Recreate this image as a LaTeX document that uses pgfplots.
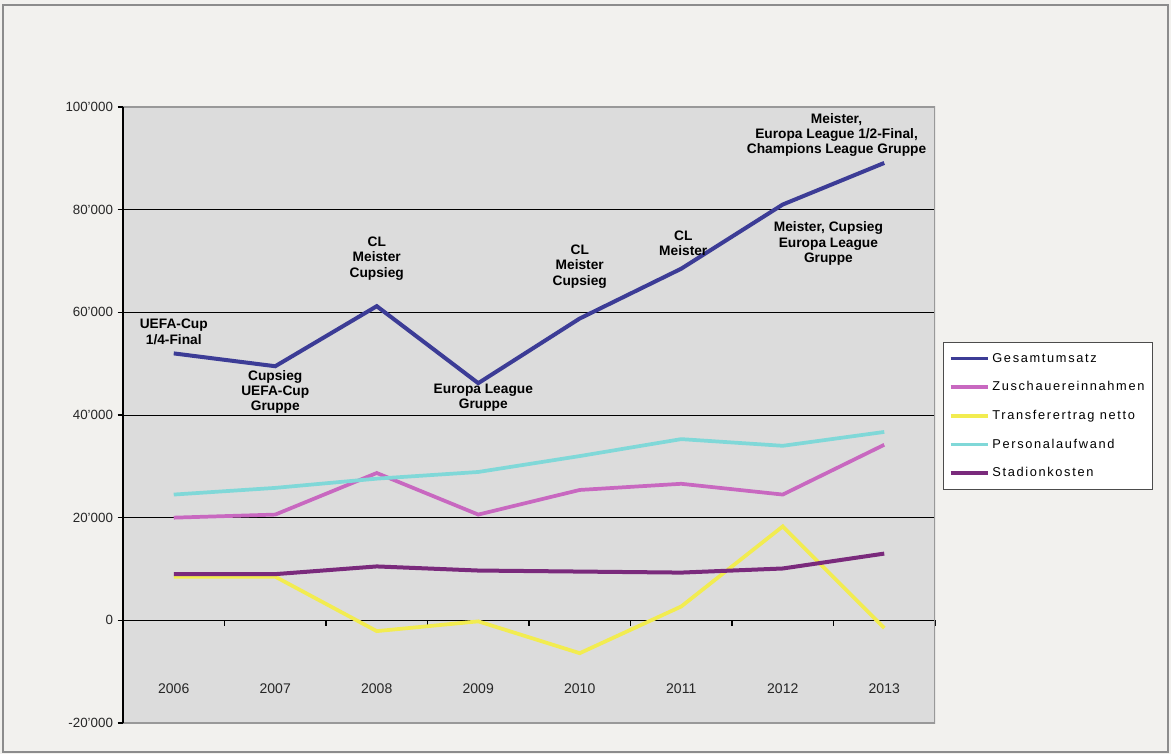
\documentclass[border=0pt]{standalone}
\usepackage{pgfplots}
\pgfplotsset{compat=1.18}
\usepackage{fontspec}
\setmainfont{Liberation Sans}
\newfontfamily\legfont[LetterSpace=13]{Liberation Sans}
\definecolor{bgout}{HTML}{F2F1EE}
\definecolor{plotbg}{HTML}{DCDCDC}
\definecolor{cGes}{HTML}{3C3C96}
\definecolor{cZus}{HTML}{C868C0}
\definecolor{cTra}{HTML}{F2EC50}
\definecolor{cPer}{HTML}{80D8D8}
\definecolor{cSta}{HTML}{7A2A7C}
\begin{document}
\begin{tikzpicture}[x=0.75pt,y=0.75pt]
\path[use as bounding box] (0,0) rectangle (1171,754);
\fill[bgout] (0,0) rectangle (1171,754);
\draw[black!45,line width=2.2pt] (3,2) rectangle (1168,749);
\begin{axis}[
  at={(92.25pt,23.25pt)}, anchor=south west,
  width=609pt, height=462pt, scale only axis,
  xmin=-0.5, xmax=7.5, ymin=-20000, ymax=100000,
  axis background/.style={fill=plotbg},
  axis x line*=middle, axis y line*=left,
  axis line style={black, line width=0.9pt},
  scaled ticks=false,
  xtick={-0.5,0.5,...,7.5}, xticklabels={},
  xticklabel style={text opacity=0},
  ytick={-20000,0,20000,40000,60000,80000,100000},
  yticklabels={-20'000,0,20'000,40'000,60'000,80'000,100'000},
  yticklabel style={font=\fontsize{10}{11}\selectfont, text=black!85},
  tick align=outside, major tick length=4pt,
  tick style={black, line width=0.8pt},
  ymajorgrids, grid style={black, line width=0.7pt},
  legend style={at={(1.0098,0.6185)}, anchor=north west, draw=black!70,
    line width=0.9pt, fill=white, font=\legfont\fontsize{9.6}{10}\selectfont,
    row sep=9pt, inner xsep=4pt, inner ysep=6pt, cells={anchor=west}},
  legend image code/.code={\draw[#1,line width=2.6pt] (0pt,0pt) -- (28pt,0pt);},
]
\addplot[cGes, line width=3pt] coordinates {(0,52000) (1,49500) (2,61200) (3,46200) (4,58800) (5,68500) (6,81000) (7,89100)};
\addlegendentry{Gesamtumsatz}
\addplot[cZus, line width=2.8pt] coordinates {(0,20000) (1,20600) (2,28700) (3,20600) (4,25400) (5,26600) (6,24500) (7,34200)};
\addlegendentry{Zuschauereinnahmen}
\addplot[cTra, line width=2.8pt] coordinates {(0,8500) (1,8500) (2,-2100) (3,-200) (4,-6400) (5,2700) (6,18300) (7,-1500)};
\addlegendentry{Transferertrag netto}
\addplot[cPer, line width=2.8pt] coordinates {(0,24500) (1,25800) (2,27600) (3,28900) (4,32000) (5,35300) (6,34000) (7,36700)};
\addlegendentry{Personalaufwand}
\addplot[cSta, line width=3pt] coordinates {(0,9000) (1,9000) (2,10500) (3,9700) (4,9500) (5,9300) (6,10100) (7,13000)};
\addlegendentry{Stadionkosten}
\draw[black!40, line width=1.3pt] (rel axis cs:0,0) rectangle (rel axis cs:1,1);
\draw[black, line width=0.9pt] (rel axis cs:0,0) -- (rel axis cs:0,1);
\tikzset{ann/.style={align=center, font=\bfseries\fontsize{10.3}{11.5}\selectfont}}
\node[ann] at (axis cs:0,56220) {UEFA-Cup\\1/4-Final};
\node[ann] at (axis cs:1,44470) {Cupsieg\\UEFA-Cup\\Gruppe};
\node[ann] at (axis cs:2,70500) {CL\\Meister\\Cupsieg};
\node[ann] at (axis cs:3.05,43400) {Europa League\\Gruppe};
\node[ann] at (axis cs:4,68940) {CL\\Meister\\Cupsieg};
\node[ann] at (axis cs:5.02,73400) {CL\\Meister};
\node[ann] at (axis cs:6.45,73400) {Meister, Cupsieg\\Europa League\\Gruppe};
\node[ann] at (axis cs:6.53,94570) {Meister,\\Europa League 1/2-Final,\\Champions League Gruppe};
\tikzset{yr/.style={font=\fontsize{10.5}{12}\selectfont, text=black!85}}
\node[yr] at (axis cs:0,-13400) {2006};
\node[yr] at (axis cs:1,-13400) {2007};
\node[yr] at (axis cs:2,-13400) {2008};
\node[yr] at (axis cs:3,-13400) {2009};
\node[yr] at (axis cs:4,-13400) {2010};
\node[yr] at (axis cs:5,-13400) {2011};
\node[yr] at (axis cs:6,-13400) {2012};
\node[yr] at (axis cs:7,-13400) {2013};
\end{axis}
\end{tikzpicture}
\end{document}
